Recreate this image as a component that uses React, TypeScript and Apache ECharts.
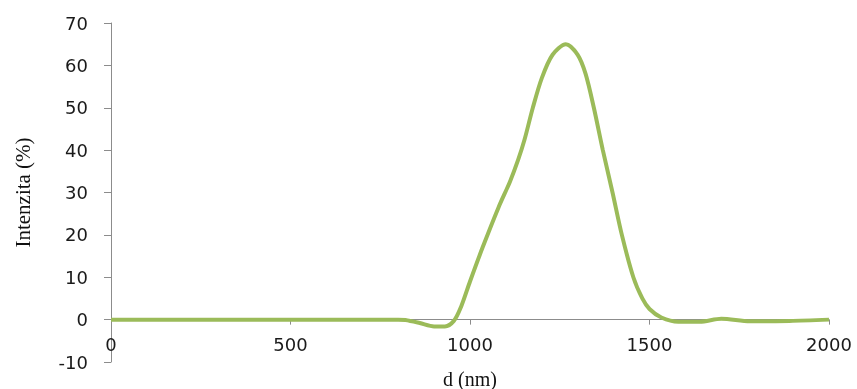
import React, { useEffect, useRef } from "react";
import * as echarts from "echarts";

const diameters = [0, 100, 200, 300, 400, 500, 600, 700, 800, 820, 860, 900, 930, 955, 975, 1000, 1035, 1080, 1111, 1134, 1152, 1175, 1200, 1230, 1267, 1300, 1322, 1345, 1370, 1397, 1423, 1455, 1480, 1500, 1533, 1580, 1640, 1700, 1780, 1890, 2000];
const intensity = [0, 0, 0, 0, 0, 0, 0, 0, 0, -0.1, -0.8, -1.6, -1.6, -0.3, 3, 9, 17, 26.6, 32.5, 37.7, 42.5, 50, 57, 62.5, 65, 62.5, 58, 50, 40, 30, 20, 10, 5, 2.5, 0.5, -0.5, -0.5, 0.2, -0.4, -0.3, 0];

const xTicks = [0, 500, 1000, 1500, 2000];
const yTicks = [-10, 0, 10, 20, 30, 40, 50, 60, 70];

export default function App() {
  const ref = useRef<HTMLDivElement>(null);
  useEffect(() => {
    if (!ref.current) return;
    const chart = echarts.init(ref.current, null, { renderer: "svg" });
    const labelStyle = { fontFamily: "DejaVu Sans", fontSize: 18, color: "#1a1a1a" };
    const xMin = xTicks[0];
    const xMax = xTicks[xTicks.length - 1];
    chart.setOption({
      animation: false,
      grid: { left: 111, right: 28, top: 23, bottom: 27, outerBoundsMode: "none" },
      xAxis: [
        {
          type: "value",
          min: xMin,
          max: xMax,
          interval: 500,
          axisLine: { onZero: true, lineStyle: { color: "#8c8c8c", width: 1 } },
          axisTick: { show: true, inside: false, length: 5, lineStyle: { color: "#8c8c8c" } },
          axisLabel: { show: false },
          splitLine: { show: false },
        },
        {
          type: "value",
          position: "bottom",
          min: xMin,
          max: xMax,
          interval: 500,
          name: "d (nm)",
          nameLocation: "middle",
          nameGap: 2,
          nameTextStyle: { fontFamily: "Liberation Serif", fontSize: 20, lineHeight: 22, color: "#111" },
          axisLine: { show: false, onZero: false },
          axisTick: { show: false },
          axisLabel: { ...labelStyle, margin: -27, formatter: (v: number) => String(v) },
          splitLine: { show: false },
        },
      ],
      yAxis: {
        type: "value",
        min: yTicks[0],
        max: yTicks[yTicks.length - 1],
        interval: 10,
        name: "Intenzita (%)",
        nameLocation: "middle",
        nameGap: 78,
        nameRotate: 90,
        nameTextStyle: { fontFamily: "Liberation Serif", fontSize: 21, color: "#111" },
        axisLine: { show: true, lineStyle: { color: "#8c8c8c", width: 1 } },
        axisTick: { show: true, inside: false, length: 7, lineStyle: { color: "#8c8c8c" } },
        axisLabel: { ...labelStyle, margin: 23, formatter: (v: number) => String(v) },
        splitLine: { show: false },
      },
      series: [
        {
          type: "line",
          xAxisIndex: 0,
          data: diameters.map((d, i) => [d, intensity[i]]),
          smooth: 0.3,
          showSymbol: false,
          symbol: "none",
          lineStyle: { color: "#9BBB59", width: 4 },
        },
      ],
    });
    return () => chart.dispose();
  }, []);
  return (
    <div
      ref={ref}
      style={{ position: "fixed", left: 0, top: 0, width: 857, height: 389 }}
    />
  );
}
